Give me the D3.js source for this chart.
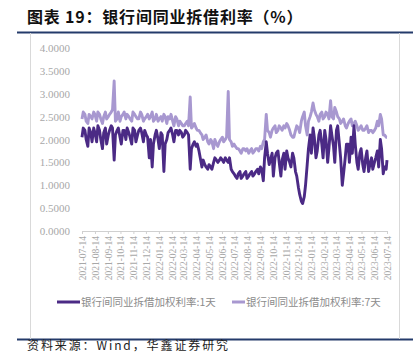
<!DOCTYPE html>
<html><head><meta charset="utf-8">
<script src="https://cdn.jsdelivr.net/npm/d3@7/dist/d3.min.js"></script>
<style>body{margin:0;background:#fff}svg{display:block}</style>
</head><body>
<svg id="c" width="420" height="353"></svg>
<script>
// weekly (Wednesday) readings
const dates = ["2021-07-14","2021-07-21","2021-07-28","2021-08-04","2021-08-11","2021-08-18","2021-08-25","2021-09-01","2021-09-08","2021-09-15","2021-09-22","2021-09-29","2021-10-06","2021-10-13","2021-10-20","2021-10-27","2021-11-03","2021-11-10","2021-11-17","2021-11-24","2021-12-01","2021-12-08","2021-12-15","2021-12-22","2021-12-29","2022-01-05","2022-01-12","2022-01-19","2022-01-26","2022-02-02","2022-02-09","2022-02-16","2022-02-23","2022-03-02","2022-03-09","2022-03-16","2022-03-23","2022-03-30","2022-04-06","2022-04-13","2022-04-20","2022-04-27","2022-05-04","2022-05-11","2022-05-18","2022-05-25","2022-06-01","2022-06-08","2022-06-15","2022-06-22","2022-06-29","2022-07-06","2022-07-13","2022-07-20","2022-07-27","2022-08-03","2022-08-10","2022-08-17","2022-08-24","2022-08-31","2022-09-07","2022-09-14","2022-09-21","2022-09-28","2022-10-05","2022-10-12","2022-10-19","2022-10-26","2022-11-02","2022-11-09","2022-11-16","2022-11-23","2022-11-30","2022-12-07","2022-12-14","2022-12-21","2022-12-28","2023-01-04","2023-01-11","2023-01-18","2023-01-25","2023-02-01","2023-02-08","2023-02-15","2023-02-22","2023-03-01","2023-03-08","2023-03-15","2023-03-22","2023-03-29","2023-04-05","2023-04-12","2023-04-19","2023-04-26","2023-05-03","2023-05-10","2023-05-17","2023-05-24","2023-05-31","2023-06-07","2023-06-14","2023-06-21","2023-06-28","2023-07-05","2023-07-12","2023-07-14"];
const rate1D = [2.05,2.2,1.85,2.15,2.25,1.95,2.2,1.8,2.25,2.1,2.3,1.55,2.2,2.05,2.2,2.0,2.15,1.9,2.2,2.1,2.25,1.95,2.1,1.6,1.4,2.1,2.0,2.15,1.3,2.0,2.2,2.1,2.2,2.1,2.15,2.1,2.15,1.35,1.9,1.85,1.75,1.4,1.45,1.35,1.4,1.5,1.55,1.55,1.55,1.6,1.5,1.35,1.25,1.15,1.3,1.2,1.3,1.2,1.3,1.25,1.35,1.4,1.1,1.95,1.45,1.7,1.6,1.75,1.2,1.7,1.75,1.5,1.7,1.3,0.95,0.65,0.75,1.45,2.1,2.25,1.6,2.1,1.9,2.2,1.5,2.3,1.85,2.2,1.9,1.0,1.6,1.9,2.05,2.3,1.5,1.7,1.45,1.6,1.3,1.6,1.5,1.75,2.0,1.25,1.35,1.55];
const rate7D = [2.45,2.55,2.35,2.5,2.6,2.4,2.55,2.35,2.6,2.5,2.6,3.28,2.45,2.4,2.55,2.45,2.5,2.4,2.55,2.45,2.6,2.4,2.5,2.45,2.6,2.45,2.4,2.5,2.55,2.35,2.45,2.4,2.5,2.3,2.35,2.3,2.4,2.93,2.3,2.25,2.2,2.1,2.05,1.95,2.0,1.8,1.9,1.95,2.05,2.0,3.05,1.95,1.9,1.8,1.75,1.8,1.75,1.7,1.8,1.75,1.8,1.85,1.95,2.55,2.15,2.2,2.3,2.2,2.25,2.3,2.35,2.2,2.05,2.2,2.25,2.4,2.6,2.1,2.5,2.8,2.55,2.4,2.6,2.5,2.55,2.85,2.45,2.6,2.45,2.4,2.3,2.35,2.45,2.35,2.3,2.25,2.2,2.25,2.15,2.2,2.2,2.4,2.55,2.1,2.05,2.05];
// mid-week (Saturday) readings
const midDates = ["2021-07-17","2021-07-24","2021-07-31","2021-08-07","2021-08-14","2021-08-21","2021-08-28","2021-09-04","2021-09-11","2021-09-18","2021-09-25","2021-10-02","2021-10-09","2021-10-16","2021-10-23","2021-10-30","2021-11-06","2021-11-13","2021-11-20","2021-11-27","2021-12-04","2021-12-11","2021-12-18","2021-12-25","2022-01-01","2022-01-08","2022-01-15","2022-01-22","2022-01-29","2022-02-05","2022-02-12","2022-02-19","2022-02-26","2022-03-05","2022-03-12","2022-03-19","2022-03-26","2022-04-02","2022-04-09","2022-04-16","2022-04-23","2022-04-30","2022-05-07","2022-05-14","2022-05-21","2022-05-28","2022-06-04","2022-06-11","2022-06-18","2022-06-25","2022-07-02","2022-07-09","2022-07-16","2022-07-23","2022-07-30","2022-08-06","2022-08-13","2022-08-20","2022-08-27","2022-09-03","2022-09-10","2022-09-17","2022-09-24","2022-10-01","2022-10-08","2022-10-15","2022-10-22","2022-10-29","2022-11-05","2022-11-12","2022-11-19","2022-11-26","2022-12-03","2022-12-10","2022-12-17","2022-12-24","2022-12-31","2023-01-07","2023-01-14","2023-01-21","2023-01-28","2023-02-04","2023-02-11","2023-02-18","2023-02-25","2023-03-04","2023-03-11","2023-03-18","2023-03-25","2023-04-01","2023-04-08","2023-04-15","2023-04-22","2023-04-29","2023-05-06","2023-05-13","2023-05-20","2023-05-27","2023-06-03","2023-06-10","2023-06-17","2023-06-24","2023-07-01","2023-07-08"];
const mid1D = [2.25,2.0,2.25,1.95,2.15,2.3,2.0,2.15,1.9,2.2,2.25,2.1,2.25,1.9,2.2,2.25,2.05,2.25,1.95,2.2,2.15,2.2,2.05,2.0,1.9,2.2,1.8,2.1,1.9,2.15,2.25,1.95,2.2,2.2,2.05,2.2,2.1,1.8,1.95,1.9,1.6,1.55,1.4,1.45,1.35,1.6,1.5,1.6,1.5,1.55,1.6,1.3,1.2,1.25,1.15,1.25,1.15,1.25,1.2,1.3,1.25,1.35,1.6,1.7,1.55,1.2,1.7,1.5,1.55,1.35,1.6,1.4,1.6,1.2,0.8,0.6,1.0,1.8,1.7,2.05,1.75,2.2,1.6,2.0,1.8,2.1,1.5,2.3,1.6,1.25,1.9,1.5,1.7,1.9,1.35,1.8,1.3,1.75,1.45,1.35,1.6,1.4,1.8,1.4];
const mid7D = [2.6,2.4,2.55,2.45,2.55,2.6,2.45,2.5,2.45,2.55,2.65,2.4,2.6,2.5,2.6,2.55,2.45,2.6,2.5,2.45,2.55,2.45,2.55,2.5,2.4,2.55,2.45,2.4,2.5,2.5,2.55,2.3,2.45,2.4,2.3,2.35,2.3,2.25,2.35,2.2,2.15,2.0,2.1,1.9,1.95,2.0,1.85,2.0,1.95,2.05,2.0,1.85,1.85,1.8,1.7,1.8,1.8,1.75,1.7,1.8,1.75,1.8,2.0,2.2,2.05,2.25,2.15,2.3,2.2,2.25,2.3,2.1,2.05,2.3,2.15,2.5,2.3,2.4,2.6,2.65,2.5,2.55,2.45,2.6,2.45,2.5,2.7,2.5,2.35,2.45,2.25,2.4,2.3,2.4,2.2,2.3,2.2,2.3,2.2,2.15,2.25,2.3,2.45,2.1];
const tickDates = ["2021-07-14","2021-08-14","2021-09-14","2021-10-14","2021-11-14","2021-12-14","2022-01-14","2022-02-14","2022-03-14","2022-04-14","2022-05-14","2022-06-14","2022-07-14","2022-08-14","2022-09-14","2022-10-14","2022-11-14","2022-12-14","2023-01-14","2023-02-14","2023-03-14","2023-04-14","2023-05-14","2023-06-14","2023-07-14"];
const yTicks = [0,0.5,1,1.5,2,2.5,3,3.5,4];
const seriesNames = ["银行间同业拆借加权利率:1天","银行间同业拆借加权利率:7天"];
const colors = ["#4b2a85","#a898d0"];

const parse = d3.utcParse("%Y-%m-%d");
const svg = d3.select("#c");
const x = d3.scaleUtc().domain([parse("2021-07-14"), parse("2023-07-14")]).range([82, 387]);
const y = d3.scaleLinear().domain([0,4]).range([231,48]);

// title
svg.append("text").attr("x",27).attr("y",23).attr("font-family","Noto Sans CJK SC").attr("font-weight",700)
  .attr("font-size",16).attr("letter-spacing",0.8).attr("fill","#111").text("图表 19：银行间同业拆借利率（%）");
// frame
svg.append("line").attr("x1",17).attr("x2",413).attr("y1",32.5).attr("y2",32.5).attr("stroke","#243b6b").attr("stroke-width",2.2);
svg.append("line").attr("x1",17).attr("x2",413).attr("y1",339.5).attr("y2",339.5).attr("stroke","#243b6b").attr("stroke-width",2.2);
svg.append("line").attr("x1",30.5).attr("x2",30.5).attr("y1",33).attr("y2",339).attr("stroke","#d9d9d9");
svg.append("line").attr("x1",399.5).attr("x2",399.5).attr("y1",33).attr("y2",339).attr("stroke","#d9d9d9");
// source
svg.append("text").attr("x",27).attr("y",349.5).attr("font-family","Noto Sans CJK SC").attr("font-size",12)
  .attr("letter-spacing",1.9).attr("fill","#222").text("资料来源：Wind，华鑫证券研究");

// y axis labels
const yAxis = svg.append("g").attr("transform","translate(72,0)")
  .call(d3.axisLeft(y).tickValues(yTicks).tickSize(0).tickPadding(2).tickFormat(d3.format(".4f")));
yAxis.select(".domain").remove();
yAxis.selectAll("text").attr("font-family","Liberation Serif").attr("font-size",11).attr("fill","#a8a8a8");

// x axis
const xAxis = svg.append("g").attr("transform","translate(0,231)")
  .call(d3.axisBottom(x).tickValues(tickDates.map(parse)).tickSize(3).tickFormat(d3.utcFormat("%Y-%m-%d")));
xAxis.select(".domain").attr("stroke","#d0d0d0").attr("d","M82,0.5H387");
xAxis.selectAll(".tick line").attr("stroke","#d0d0d0");
xAxis.selectAll("text").attr("font-family","Liberation Serif").attr("font-size",9.5).attr("fill","#a8a8a8")
  .attr("transform","rotate(-90)").attr("x",-5).attr("y",0).attr("dy","0.35em").style("text-anchor","end");

const merge = (main, mid) => dates.map((d,i)=>[parse(d), main[i]])
  .concat(midDates.map((d,i)=>[parse(d), mid[i]]))
  .sort((a,b)=>a[0]-b[0]);
const d1 = merge(rate1D, mid1D);
const d7 = merge(rate7D, mid7D);
const line = d3.line().x(d=>x(d[0])).y(d=>y(d[1]));
svg.append("path").datum(d7).attr("d",line).attr("fill","none").attr("stroke",colors[1]).attr("stroke-width",2.9).attr("stroke-linejoin","round");
svg.append("path").datum(d1).attr("d",line).attr("fill","none").attr("stroke",colors[0]).attr("stroke-width",2.9).attr("stroke-linejoin","round");

// legend
const lg = [{x:57,tx:81},{x:232,tx:246}];
seriesNames.forEach((n,i)=>{
  const w = i===0?23:13;
  svg.append("line").attr("x1",lg[i].x).attr("x2",lg[i].x+w).attr("y1",302).attr("y2",302).attr("stroke",colors[i]).attr("stroke-width",3);
  svg.append("text").attr("x",lg[i].tx).attr("y",306).attr("font-family","Noto Sans CJK SC").attr("font-size",10.5)
    .attr("fill","#8c8c8c").text(n);
});
</script>
</body></html>
